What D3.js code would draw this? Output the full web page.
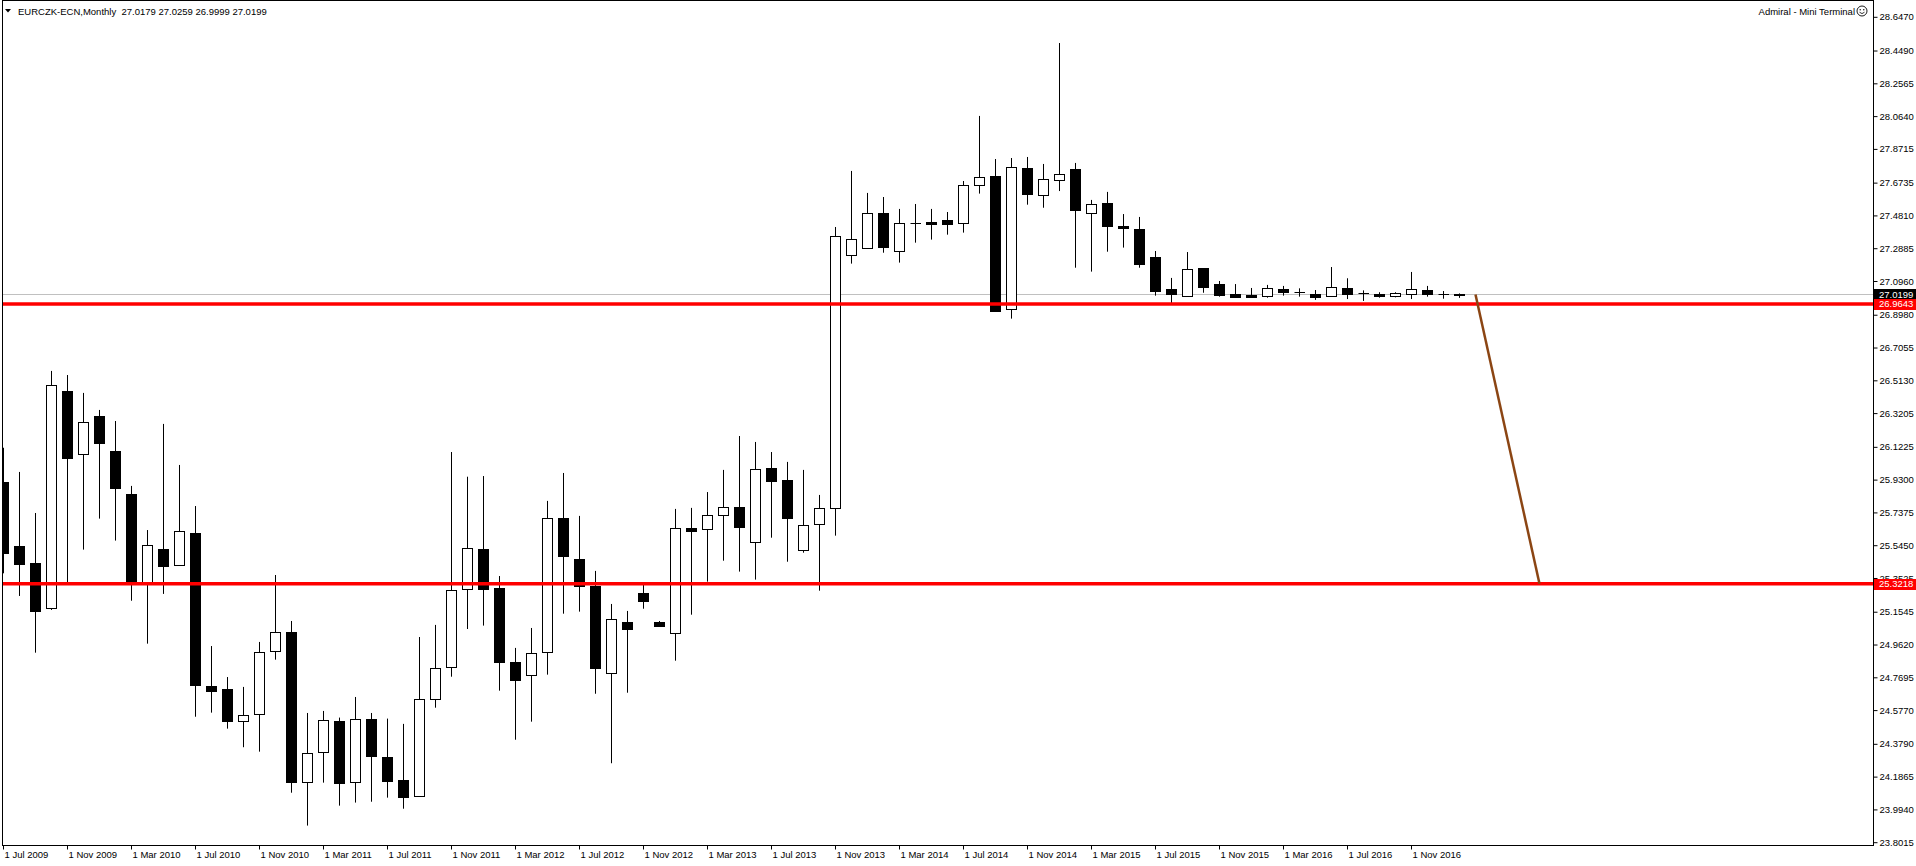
<!DOCTYPE html>
<html>
<head>
<meta charset="utf-8">
<script src="https://cdn.jsdelivr.net/npm/d3@7"></script>
<style>
  html, body { margin: 0; padding: 0; background: #fff; overflow: hidden; }
  svg { display: block; }
  text { font-family: "Liberation Sans", Arial, sans-serif; font-size: 9.5px; }
</style>
</head>
<body>
<div id="chart"></div>
<script>
// EURCZK-ECN monthly bars, first bar is Jul 2009
const firstMonth = "2009-07";

const opens = [
  25.919, 25.543, 25.444, 25.178, 26.453, 26.082, 26.307, 26.101, 25.849, 25.328,
  25.526, 25.430, 25.620, 24.722, 24.704, 24.514, 24.555, 24.925, 25.037, 24.156,
  24.332, 24.516, 24.156, 24.528, 24.305, 24.170, 24.078, 24.644, 24.831, 25.289,
  25.526, 25.297, 24.863, 24.784, 24.919, 25.706, 25.467, 25.309, 24.796, 25.097,
  25.268, 25.097, 25.031, 25.649, 25.641, 25.724, 25.771, 25.565, 26.000, 25.929,
  25.518, 25.671, 25.765, 27.250, 27.291, 27.498, 27.273, 27.438, 27.445, 27.457,
  27.438, 27.661, 27.715, 26.933, 27.762, 27.602, 27.690, 27.757, 27.497, 27.557,
  27.422, 27.404, 27.240, 27.052, 27.013, 27.175, 27.081, 27.023, 27.017, 27.013,
  27.050, 27.033, 27.023, 27.009, 27.058, 27.027, 27.023, 27.009, 27.023, 27.046,
  27.021, 27.0179
];
const highs = [
  26.120, 25.978, 25.737, 26.571, 26.547, 26.442, 26.342, 26.277, 25.896, 25.637,
  26.260, 26.019, 25.778, 24.956, 24.774, 24.716, 24.980, 25.373, 25.103, 24.563,
  24.575, 24.536, 24.657, 24.563, 24.530, 24.499, 25.009, 25.080, 26.095, 25.950,
  25.954, 25.367, 24.945, 25.062, 25.808, 25.972, 25.720, 25.397, 25.203, 25.162,
  25.326, 25.103, 25.761, 25.767, 25.860, 25.990, 26.189, 26.154, 26.095, 26.037,
  25.990, 25.843, 27.416, 27.745, 27.616, 27.592, 27.522, 27.551, 27.522, 27.504,
  27.686, 28.068, 27.815, 27.821, 27.827, 27.786, 28.496, 27.792, 27.575, 27.622,
  27.492, 27.475, 27.275, 27.117, 27.269, 27.175, 27.099, 27.081, 27.058, 27.076,
  27.070, 27.056, 27.046, 27.181, 27.115, 27.044, 27.033, 27.033, 27.152, 27.070,
  27.040, 27.0259
];
const lows = [
  25.383, 25.250, 24.917, 25.168, 25.322, 25.522, 25.704, 25.575, 25.222, 24.970,
  25.262, 25.426, 24.541, 24.565, 24.471, 24.362, 24.336, 24.876, 24.095, 23.902,
  24.154, 24.019, 24.037, 24.042, 24.066, 24.001, 24.072, 24.594, 24.776, 25.056,
  25.076, 24.694, 24.406, 24.512, 24.788, 25.146, 25.158, 24.676, 24.268, 24.682,
  25.175, 25.074, 24.870, 25.140, 25.334, 25.457, 25.393, 25.346, 25.592, 25.451,
  25.504, 25.281, 25.604, 27.201, 27.287, 27.265, 27.207, 27.324, 27.342, 27.371,
  27.383, 27.612, 26.919, 26.878, 27.547, 27.529, 27.627, 27.177, 27.154, 27.271,
  27.295, 27.177, 27.013, 26.966, 27.007, 27.030, 27.007, 27.005, 27.005, 27.001,
  27.013, 27.007, 26.988, 27.005, 26.993, 26.982, 27.001, 27.003, 26.993, 27.007,
  26.995, 26.9999
];
const closes = [
  25.504, 25.440, 25.164, 26.487, 26.062, 26.270, 26.150, 25.886, 25.334, 25.548,
  25.428, 25.630, 24.729, 24.694, 24.518, 24.550, 24.919, 25.037, 24.160, 24.327,
  24.522, 24.154, 24.528, 24.312, 24.166, 24.072, 24.645, 24.826, 25.283, 25.530,
  25.293, 24.864, 24.759, 24.914, 25.706, 25.487, 25.310, 24.829, 25.113, 25.058,
  25.222, 25.076, 25.647, 25.633, 25.724, 25.771, 25.657, 25.994, 25.927, 25.710,
  25.665, 25.765, 27.361, 27.344, 27.497, 27.300, 27.438, 27.437, 27.435, 27.435,
  27.661, 27.708, 26.925, 27.767, 27.612, 27.696, 27.725, 27.518, 27.549, 27.424,
  27.412, 27.201, 27.042, 27.025, 27.168, 27.066, 27.019, 27.007, 27.007, 27.056,
  27.036, 27.033, 27.007, 27.062, 27.025, 27.027, 27.011, 27.027, 27.050, 27.021,
  27.021, 27.0199
];

// price scale labels as printed on the right axis
const priceTicks = [
  "28.6470", "28.4490", "28.2565", "28.0640", "27.8715", "27.6735", "27.4810",
  "27.2885", "27.0960", "26.8980", "26.7055", "26.5130", "26.3205", "26.1225",
  "25.9300", "25.7375", "25.5450", "25.3525", "25.1545", "24.9620", "24.7695",
  "24.5770", "24.3790", "24.1865", "23.9940", "23.8015"
];
const dateTicks = [
  "1 Jul 2009", "1 Nov 2009", "1 Mar 2010", "1 Jul 2010", "1 Nov 2010",
  "1 Mar 2011", "1 Jul 2011", "1 Nov 2011", "1 Mar 2012", "1 Jul 2012",
  "1 Nov 2012", "1 Mar 2013", "1 Jul 2013", "1 Nov 2013", "1 Mar 2014",
  "1 Jul 2014", "1 Nov 2014", "1 Mar 2015", "1 Jul 2015", "1 Nov 2015",
  "1 Mar 2016", "1 Jul 2016", "1 Nov 2016"
];

// horizontal levels, bid line and the drawn trend line (bar index, price)
const levels = [26.9643, 25.3218];
const bid = 27.0199;
const trendLine = [[92, 27.0199], [96, 25.3218]];

const title = "EURCZK-ECN,Monthly";
const brand = "Admiral - Mini Terminal";

const width = 1916,
  height = 866;
const plot = { left: 3, top: 1, right: 1873, bottom: 845 };

const svg = d3
  .select("#chart")
  .append("svg")
  .attr("width", width)
  .attr("height", height);

const x = d3.scaleLinear().domain([0, 116]).range([3.5, 3.5 + 16 * 116]);
const y = d3.scaleLinear().domain([23.8015, 28.647]).range([842.7, 17.3]);

const start = d3.timeParse("%Y-%m")(firstMonth);
const parseTick = d3.timeParse("%d %b %Y");
const monthIndex = (s) => d3.timeMonth.count(start, parseTick(s));

svg
  .append("clipPath")
  .attr("id", "plot-clip")
  .append("rect")
  .attr("x", plot.left)
  .attr("y", plot.top)
  .attr("width", plot.right - plot.left)
  .attr("height", plot.bottom - plot.top);

const inner = svg.append("g").attr("clip-path", "url(#plot-clip)");

// bid line
inner
  .append("line")
  .attr("x1", plot.left)
  .attr("x2", plot.right)
  .attr("y1", Math.round(y(bid)) + 0.5)
  .attr("y2", Math.round(y(bid)) + 0.5)
  .attr("stroke", "#c0c0c0")
  .attr("stroke-width", 1);

// candles
const bars = d3.range(opens.length).map((i) => ({
  i,
  o: opens[i],
  h: highs[i],
  l: lows[i],
  c: closes[i],
}));

const candle = inner
  .append("g")
  .selectAll("g")
  .data(bars)
  .join("g");

candle
  .append("line")
  .attr("x1", (d) => x(d.i))
  .attr("x2", (d) => x(d.i))
  .attr("y1", (d) => y(d.h))
  .attr("y2", (d) => y(d.l))
  .attr("stroke", "#000")
  .attr("stroke-width", 1);

candle.each(function (d) {
  const g = d3.select(this);
  const top = Math.round(y(Math.max(d.o, d.c)));
  const bot = Math.round(y(Math.min(d.o, d.c)));
  const cx = x(d.i);
  if (bot - top < 1) {
    g.append("line")
      .attr("x1", cx - 5)
      .attr("x2", cx + 5.5)
      .attr("y1", top + 0.5)
      .attr("y2", top + 0.5)
      .attr("stroke", "#000");
  } else {
    g.append("rect")
      .attr("x", cx - 5)
      .attr("y", top + 0.5)
      .attr("width", 10)
      .attr("height", bot - top)
      .attr("fill", d.c > d.o ? "#fff" : "#000")
      .attr("stroke", "#000")
      .attr("stroke-width", 1);
  }
});

// support / resistance levels
inner
  .append("g")
  .selectAll("line")
  .data(levels)
  .join("line")
  .attr("x1", plot.left)
  .attr("x2", plot.right)
  .attr("y1", (d) => y(d))
  .attr("y2", (d) => y(d))
  .attr("stroke", "#ff0000")
  .attr("stroke-width", 3.6);

// trend line
inner
  .append("path")
  .datum(trendLine)
  .attr("fill", "none")
  .attr("stroke", "#8b4513")
  .attr("stroke-width", 2.5)
  .attr(
    "d",
    d3
      .line()
      .x((d) => x(d[0]))
      .y((d) => y(d[1])),
  );

// frame
svg
  .append("rect")
  .attr("x", plot.left - 0.5)
  .attr("y", plot.top - 0.5)
  .attr("width", plot.right - plot.left + 1)
  .attr("height", plot.bottom - plot.top + 1)
  .attr("fill", "none")
  .attr("stroke", "#000")
  .attr("stroke-width", 1);

// right price axis
const yAxis = svg
  .append("g")
  .attr("transform", `translate(${plot.right + 0.5},0)`)
  .call(
    d3
      .axisRight(y)
      .tickValues(priceTicks.map(Number))
      .tickFormat((d, i) => priceTicks[i])
      .tickSize(4)
      .tickPadding(2)
      .offset(0),
  );
yAxis.select(".domain").remove();
yAxis
  .selectAll("text")
  .attr("font-family", '"Liberation Sans", Arial, sans-serif')
  .attr("font-size", 9.5)
  .attr("fill", "#000");

// bottom date axis
const xAxis = svg
  .append("g")
  .attr("transform", `translate(0,${plot.bottom + 0.5})`)
  .call(
    d3
      .axisBottom(x)
      .tickValues(dateTicks.map(monthIndex))
      .tickFormat((d, i) => dateTicks[i])
      .tickSize(4)
      .tickPadding(2)
      .offset(0),
  );
xAxis.select(".domain").remove();
xAxis
  .selectAll("text")
  .attr("text-anchor", "start")
  .attr("x", 1)
  .attr("font-family", '"Liberation Sans", Arial, sans-serif')
  .attr("font-size", 9.5)
  .attr("fill", "#000");

// price labels on the axis
const tags = [
  { v: bid, bg: "#000" },
  { v: levels[0], bg: "#ff0000" },
  { v: levels[1], bg: "#ff0000" },
];
const tag = svg.append("g").selectAll("g").data(tags).join("g");
tag
  .append("rect")
  .attr("x", plot.right + 1)
  .attr("y", (d) => Math.round(y(d.v)) - 5)
  .attr("width", width - plot.right - 1)
  .attr("height", 11)
  .attr("fill", (d) => d.bg);
tag
  .append("text")
  .attr("x", plot.right + 6)
  .attr("y", (d) => y(d.v))
  .attr("dy", "0.34em")
  .attr("fill", "#fff")
  .text((d) => d.v.toFixed(4));

// header
const last = opens.length - 1;
svg
  .append("path")
  .attr("d", "M5,9L11,9L8,12.5Z")
  .attr("fill", "#000");
svg
  .append("text")
  .attr("x", 18)
  .attr("y", 14.5)
  .attr("fill", "#000")
  .attr("xml:space", "preserve")
  .text(
    `${title}  ${[opens[last], highs[last], lows[last], closes[last]]
      .map((v) => v.toFixed(4))
      .join(" ")}`,
  );

svg
  .append("text")
  .attr("x", 1855)
  .attr("y", 14.5)
  .attr("text-anchor", "end")
  .attr("fill", "#000")
  .text(brand);

// smiley icon
const smile = svg.append("g").attr("transform", "translate(1862,11)");
smile
  .append("circle")
  .attr("r", 5)
  .attr("fill", "none")
  .attr("stroke", "#000")
  .attr("stroke-width", 0.9);
smile
  .selectAll(".eye")
  .data([-1.8, 1.8])
  .join("circle")
  .attr("cx", (d) => d)
  .attr("cy", -1.3)
  .attr("r", 0.7)
  .attr("fill", "#000");
smile
  .append("path")
  .attr("d", "M-2.5,1.2 Q0,4 2.5,1.2")
  .attr("fill", "none")
  .attr("stroke", "#000")
  .attr("stroke-width", 0.8);
</script>
</body>
</html>
